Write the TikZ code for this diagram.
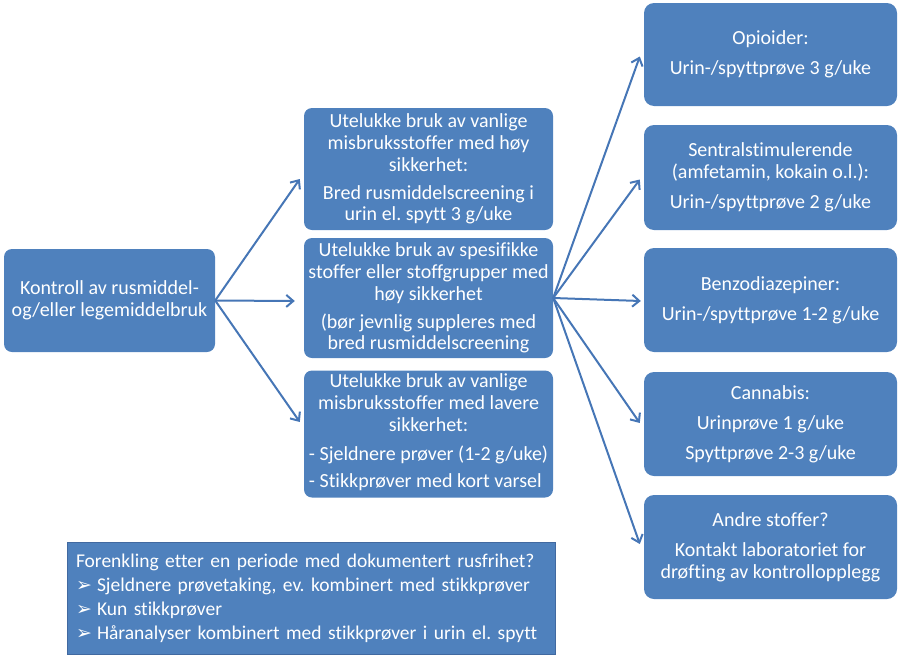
\documentclass[tikz,border=0pt]{standalone}
\usepackage{fontspec}
\setmainfont{Carlito}[Ligatures={NoCommon}]
\newfontfamily\symfont{DejaVu Sans}
\usetikzlibrary{arrows.meta, positioning}
\definecolor{cBox}{RGB}{79,129,189}
\definecolor{cEdge}{RGB}{65,105,160}
\definecolor{cArrow}{RGB}{70,118,182}
\tikzset{
	kbox/.style   ={rectangle, rounded corners=8pt, fill=cBox, text=white, align=center, inner sep=2pt},
	midbox/.style ={kbox, minimum width=249pt},
	sidebox/.style={kbox, rounded corners=10pt, minimum width=253pt, minimum height=104pt},
	notebox/.style={rectangle, draw=cEdge, line width=0.8pt, fill=cBox, text=white, align=left,
	                text width=470pt, inner xsep=9pt, minimum height=112pt,
	                font=\fontsize{19.5}{24}\selectfont},
	flowarrow/.style={-{Straight Barb[length=7pt, width=12pt]}, line width=2pt, cArrow},
}
\newcommand{\pil}{\makebox[21pt][l]{\symfont\fontsize{19}{19}\selectfont ➢}}
\frenchspacing

\begin{document}
\begin{tikzpicture}[x=1pt, y=-1pt, every node/.style={font=\fontsize{20}{21.8}\selectfont}]
	\useasboundingbox (0,0) rectangle (900,659);
	\node[kbox, minimum width=211pt, minimum height=103pt] (k) at (109.5,300.5) {Kontroll av rusmiddel-\\ og/eller legemiddelbruk};
	% midtre kolonne
	\node[midbox, minimum height=122pt] (m1) at (428.5,169) {Utelukke bruk av vanlige\\ misbruksstoffer med høy\\ sikkerhet:\\[6pt] Bred rusmiddelscreening i\\ urin el. spytt 3 g/uke};
	\node[midbox, minimum height=120pt] (m2) at (428.5,298) {Utelukke bruk av spesifikke\\ stoffer eller stoffgrupper med\\ høy sikkerhet\\[6pt] (bør jevnlig suppleres med\\ bred rusmiddelscreening};
	\node[midbox, minimum height=127pt] (m3) at (428.5,434) {Utelukke bruk av vanlige\\ misbruksstoffer med lavere\\ sikkerhet:\\[8pt]
		\begin{tabular}[t]{@{}l@{}}- Sjeldnere prøver (1-2 g/uke)\\[5pt] - Stikkprøver med kort varsel\end{tabular}};
	% høyre kolonne
	\node[sidebox, minimum height=103pt] (r1) at (770.5,54.5) {Opioider:\\[8pt] Urin-/spyttprøve 3 g/uke};
	\node[sidebox, minimum height=105pt] (r2) at (770.5,177.5) {Sentralstimulerende\\ (amfetamin, kokain o.l.):\\[8pt] Urin-/spyttprøve 2 g/uke};
	\node[sidebox] (r3) at (770.5,300) {Benzodiazepiner:\\[8pt] Urin-/spyttprøve 1-2 g/uke};
	\node[sidebox] (r4) at (770.5,424) {Cannabis:\\[8pt] Urinprøve 1 g/uke\\[8pt] Spyttprøve 2-3 g/uke};
	\node[sidebox] (r5) at (770.5,547) {Andre stoffer?\\[8pt] Kontakt laboratoriet for\\ drøfting av kontrollopplegg};
	% nederst
	\node[notebox] (f) at (311,598) {Forenkling etter en periode med dokumentert rusfrihet?\\
		\pil Sjeldnere prøvetaking, ev. kombinert med stikkprøver\\
		\pil Kun stikkprøver\\
		\pil Håranalyser kombinert med stikkprøver i urin el. spytt};
	\draw[flowarrow] (k.east) -- ([xshift=-4pt, yshift=-10pt]m1.west);
	\draw[flowarrow] (k.east) -- ([xshift=-9pt, yshift=-3pt]m2.west);
	\draw[flowarrow] (k.east) -- ([xshift=-4pt, yshift=12pt]m3.west);
	\draw[flowarrow] (m2.east) -- ([xshift=-4pt, yshift=-2pt]r1.west);
	\draw[flowarrow] (m2.east) -- ([xshift=-4pt, yshift=-2pt]r2.west);
	\draw[flowarrow] (m2.east) -- ([xshift=-3pt, yshift=-1pt]r3.west);
	\draw[flowarrow] (m2.east) -- ([xshift=-4pt, yshift=1pt]r4.west);
	\draw[flowarrow] (m2.east) -- ([xshift=-4pt, yshift=3pt]r5.west);
\end{tikzpicture}
\end{document}
